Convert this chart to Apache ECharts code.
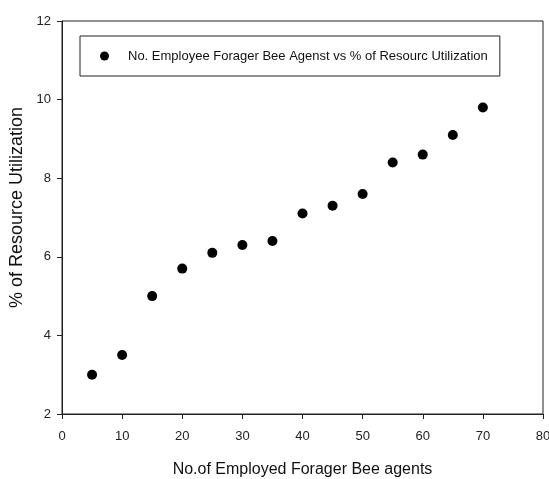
<!DOCTYPE html>
<html><head><meta charset="utf-8">
<script src="https://cdn.jsdelivr.net/npm/echarts@6/dist/echarts.min.js"></script>
<style>html,body{margin:0;padding:0;background:#fff}#c{width:549px;height:479px}</style>
</head><body><div id="c"></div>
<script>
const agents = [5, 10, 15, 20, 25, 30, 35, 40, 45, 50, 55, 60, 65, 70];
const utilization = [3.0, 3.5, 5.0, 5.7, 6.1, 6.3, 6.4, 7.1, 7.3, 7.6, 8.4, 8.6, 9.1, 9.8];
const seriesName = 'No. Employee Forager Bee Agenst vs % of Resourc Utilization';
const xTitle = 'No.of Employed Forager Bee agents';
const yTitle = '% of Resource Utilization';

const chart = echarts.init(document.getElementById('c'), null, {renderer: 'canvas'});
const font = '"Liberation Sans", Arial, sans-serif';
chart.setOption({
  animation: false,
  backgroundColor: '#fff',
  grid: {left: 62, right: 6, top: 21, bottom: 65, show: true, borderColor: '#222', borderWidth: 1,
         containLabel: false, outerBoundsMode: 'none'},
  legend: {
    left: 80, top: 36, itemWidth: 9, itemHeight: 9, itemGap: 10,
    padding: [12, 12, 12, 20],
    borderColor: '#222', borderWidth: 1,
    textStyle: {fontFamily: font, fontSize: 13, lineHeight: 16, color: '#111', padding: [0, 0, 0, 14]},
    data: [{name: seriesName, icon: 'circle'}]
  },
  xAxis: {
    type: 'value', min: 0, max: 80, interval: 10,
    name: xTitle, nameLocation: 'middle', nameGap: 48,
    nameTextStyle: {fontFamily: font, fontSize: 16, color: '#111'},
    axisLine: {lineStyle: {color: '#222'}},
    axisTick: {show: true, length: 5, lineStyle: {color: '#222'}},
    axisLabel: {fontFamily: font, fontSize: 13, color: '#222', margin: 16},
    splitLine: {show: false}
  },
  yAxis: {
    type: 'value', min: 2, max: 12, interval: 2,
    name: yTitle, nameLocation: 'middle', nameGap: 35, nameRotate: 90,
    nameTextStyle: {fontFamily: font, fontSize: 18, color: '#111', padding: [0, 0, 0, 20]},
    axisLine: {show: true, lineStyle: {color: '#222'}},
    axisTick: {show: true, length: 5, lineStyle: {color: '#222'}},
    axisLabel: {fontFamily: font, fontSize: 13, color: '#222', margin: 11},
    splitLine: {show: false}
  },
  series: [{
    name: seriesName, type: 'scatter', symbol: 'circle', symbolSize: 10,
    itemStyle: {color: '#000', opacity: 1},
    data: agents.map((a, i) => [a, utilization[i]])
  }]
});
</script></body></html>
